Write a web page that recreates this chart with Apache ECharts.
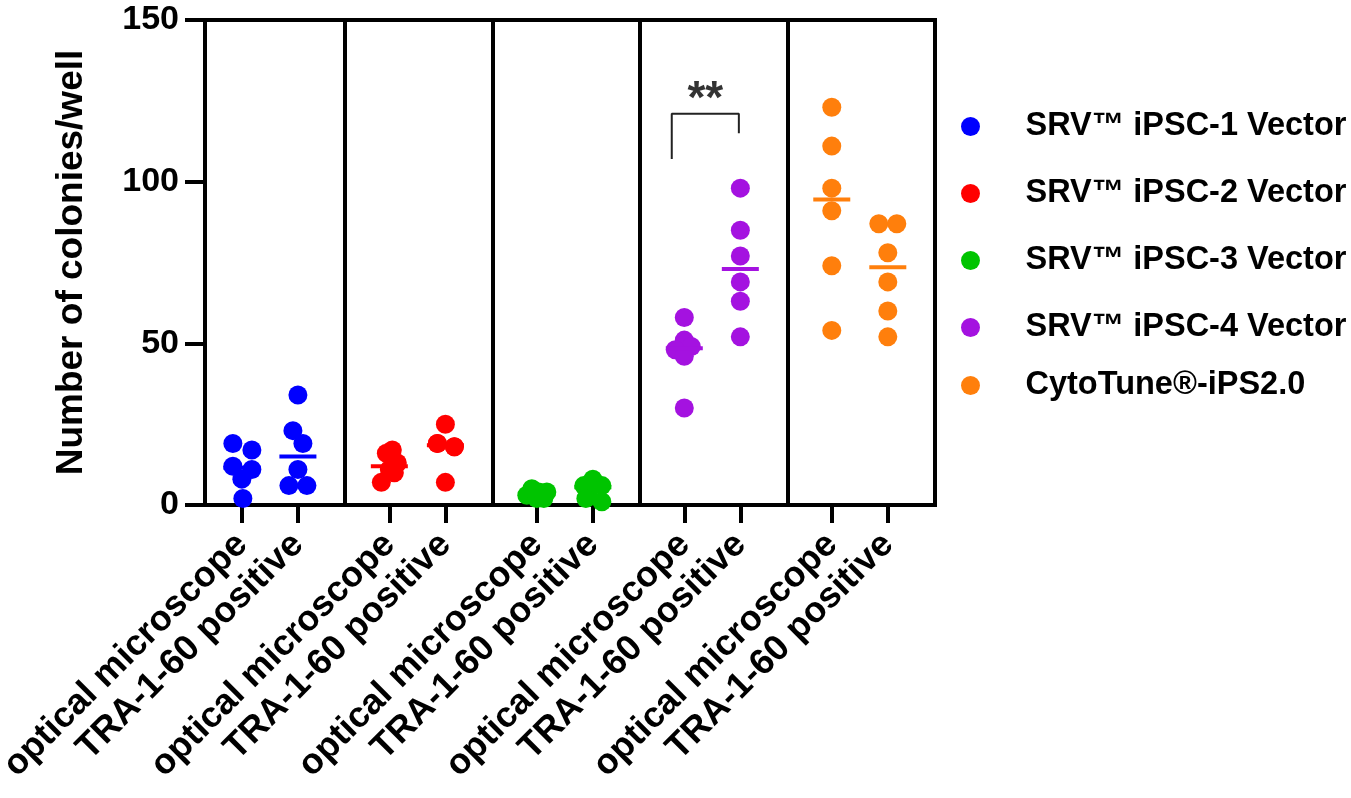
<!DOCTYPE html>
<html>
<head>
<meta charset="utf-8">
<script src="https://cdn.jsdelivr.net/npm/echarts@6/dist/echarts.min.js"></script>
<style>
html,body{margin:0;padding:0;background:#fff;}
#chart{width:1351px;height:798px;}
</style>
</head>
<body>
<div id="chart"></div>
<script>
// ---- data ----
const groups = ['SRV™ iPSC-1 Vector', 'SRV™ iPSC-2 Vector', 'SRV™ iPSC-3 Vector', 'SRV™ iPSC-4 Vector', 'CytoTune®-iPS2.0'];
const methods = ['optical microscope', 'TRA-1-60 positive'];
const colors = ['#0000ff', '#ff0000', '#00c400', '#a412e0', '#ff7f0c'];
const opticalValues = [
  [19, 17, 12, 11, 8, 2],
  [17, 16, 13, 11, 10, 7],
  [5, 4, 4, 3, 2, 2],
  [58, 51, 49, 48, 46, 30],
  [123, 111, 98, 91, 74, 54]
];
const traValues = [
  [34, 23, 19, 11, 6, 6],
  [25, 19, 19, 18, 18, 7],
  [8, 6, 6, 5, 2, 1],
  [98, 85, 77, 69, 63, 52],
  [87, 87, 78, 69, 60, 52]
];
// horizontal spreading of overlapping points (pixels), as in the scatter-dot plot
const opticalJitter = [
  [-9, 10, -9, 10, 0, 1],
  [3, -3, 8, 0, 5, -8],
  [-5, 10, 2, -10, 0, 7],
  [0, 0, 7, -9, 0, 0],
  [0, 0, 0, 0, 0, 0]
];
const traJitter = [
  [0, -5, 5, 0, -9, 9],
  [0, -8, -8, 9, 9, 0],
  [0, -9, 9, -3, -7, 9],
  [0, 0, 0, 0, 0, 0],
  [-9, 9, 0, 0, 0, 0]
];
const yTicks = [0, 50, 100, 150];
const significance = [{ group: 3, label: '**', top: 121, leftBottom: 107, rightBottom: 115 }];

// ---- layout helpers ----
const OPT_OFF = 0.3, TRA_OFF = 0.68;
const FONT = '"Liberation Sans", Arial, Helvetica, sans-serif';
const catPositions = [];
const catNames = {};
groups.forEach((g, i) => {
  catPositions.push(i + OPT_OFF, i + TRA_OFF);
  catNames[(i + OPT_OFF).toFixed(2)] = methods[0];
  catNames[(i + TRA_OFF).toFixed(2)] = methods[1];
});
function median(arr) {
  const s = arr.slice().sort((a, b) => a - b);
  const n = s.length;
  return n % 2 ? s[(n - 1) / 2] : (s[n / 2 - 1] + s[n / 2]) / 2;
}

const series = [];
groups.forEach((g, i) => {
  const data = [];
  opticalValues[i].forEach((v, k) => data.push({ value: [i + OPT_OFF, v], symbolOffset: [opticalJitter[i][k], 0] }));
  traValues[i].forEach((v, k) => data.push({ value: [i + TRA_OFF, v], symbolOffset: [traJitter[i][k], 0] }));
  const s = {
    name: g,
    type: 'scatter',
    symbol: 'circle',
    symbolSize: 19,
    clip: false,
    itemStyle: { color: colors[i], opacity: 1 },
    data: data,
    z: 3
  };
  if (i === 0) {
    s.markLine = {
      silent: true,
      symbol: 'none',
      label: { show: false },
      lineStyle: { color: '#000', width: 4, type: 'solid' },
      data: [1, 2, 3, 4].map(x => ({ xAxis: x })),
      z: 1
    };
  }
  series.push(s);
});

// median lines
const medianData = [];
groups.forEach((g, i) => {
  medianData.push([i + OPT_OFF, median(opticalValues[i]), i]);
  medianData.push([i + TRA_OFF, median(traValues[i]), i]);
});
series.push({
  type: 'custom',
  name: 'median',
  data: medianData,
  z: 4,
  renderItem: function (params, api) {
    const p = api.coord([api.value(0), api.value(1)]);
    return {
      type: 'rect',
      shape: { x: p[0] - 18.5, y: p[1] - 2, width: 37, height: 4 },
      style: { fill: colors[api.value(2)] }
    };
  }
});

// significance bracket
significance.forEach(sig => {
  const xl = sig.group + OPT_OFF - 0.085, xr = sig.group + TRA_OFF - 0.01;
  series.push({
    type: 'line',
    name: 'sig',
    symbol: 'none',
    clip: false,
    lineStyle: { color: '#222', width: 2 },
    data: [[xl, sig.leftBottom], [xl, sig.top], [xr, sig.top], [xr, sig.rightBottom]],
    z: 5
  });
  series.push({
    type: 'scatter',
    name: 'sigLabel',
    symbolSize: 0,
    clip: false,
    data: [[(xl + xr) / 2, sig.top]],
    label: {
      show: true, position: 'top', distance: -10, formatter: sig.label,
      fontFamily: FONT, fontWeight: 'bold', fontSize: 46, color: '#000'
    },
    z: 5
  });
});

const legendBase = {
  orient: 'vertical',
  left: 956,
  itemWidth: 100,
  itemHeight: 19,
  itemGap: 34,
  icon: 'circle',
  textStyle: { fontFamily: FONT, fontWeight: 'bold', fontSize: 32.5, color: '#000', lineHeight: 31 }
};

const chart = echarts.init(document.getElementById('chart'), null, { renderer: 'canvas' });
chart.setOption({
  animation: false,
  backgroundColor: '#fff',
  grid: {
    left: 205, right: 416, top: 20, bottom: 293,
    outerBoundsMode: 'none',
    containLabel: false,
    show: true, borderColor: '#000', borderWidth: 4, backgroundColor: 'transparent'
  },
  legend: [
    Object.assign({}, legendBase, { top: 105, data: groups.slice(0, 4) }),
    Object.assign({}, legendBase, { top: 364, data: groups.slice(4) })
  ],
  xAxis: {
    type: 'value',
    min: 0.05,
    max: 5,
    splitLine: { show: false },
    axisLine: { show: true, lineStyle: { color: '#000', width: 4 } },
    axisTick: { show: true, customValues: catPositions, length: 18, lineStyle: { color: '#000', width: 4 } },
    axisLabel: {
      show: true,
      customValues: catPositions,
      rotate: 45,
      margin: 34,
      formatter: v => catNames[v.toFixed(2)] || '',
      fontFamily: FONT, fontWeight: 'bold', fontSize: 36, color: '#000'
    }
  },
  yAxis: {
    type: 'value',
    min: yTicks[0],
    max: yTicks[yTicks.length - 1],
    interval: 50,
    name: 'Number of colonies/well',
    nameLocation: 'middle',
    nameRotate: 90,
    nameGap: 115,
    nameTextStyle: { fontFamily: FONT, fontWeight: 'bold', fontSize: 37, color: '#000' },
    splitLine: { show: false },
    axisLine: { show: true, lineStyle: { color: '#000', width: 4 } },
    axisTick: { show: true, length: 20, lineStyle: { color: '#000', width: 4 } },
    axisLabel: { margin: 26, fontFamily: FONT, fontWeight: 'bold', fontSize: 34, color: '#000' }
  },
  series: series
});
</script>
</body>
</html>
